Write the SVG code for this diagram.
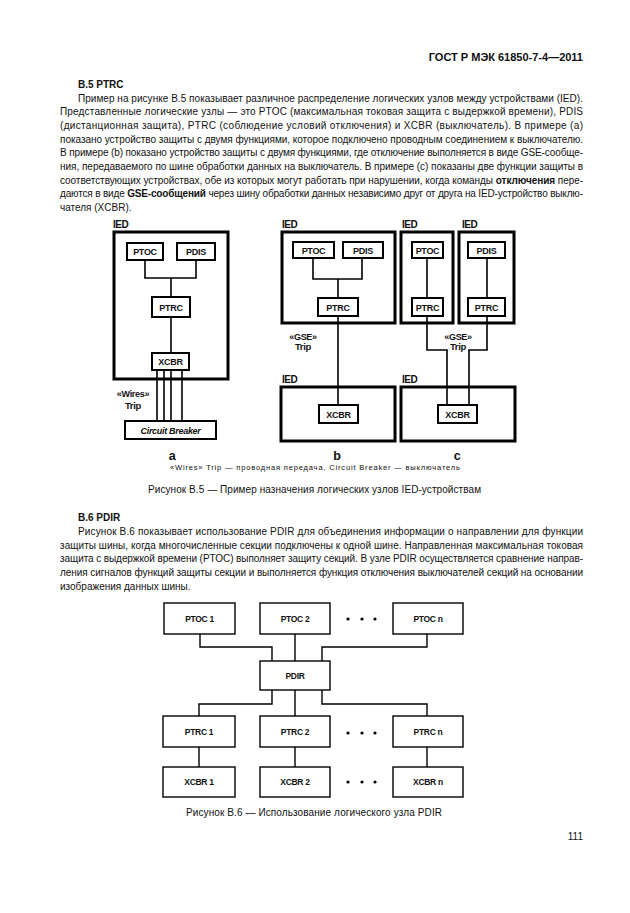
<svg xmlns="http://www.w3.org/2000/svg" width="630" height="913" viewBox="0 0 630 913">
<style>
text{font-family:"Liberation Sans",Arial,sans-serif;fill:#111}
.p{font-size:10px}
.h{font-size:10px;font-weight:bold}
.ied{fill:none;stroke:#000;stroke-width:3}
.nb{fill:#fff;stroke:#000;stroke-width:2}
.ln{fill:none;stroke:#000;stroke-width:1.6}
.lb{font-size:9px;font-weight:bold;text-anchor:middle;letter-spacing:-0.3px}
.il{font-size:10px;font-weight:bold;letter-spacing:-0.5px}
.b6{fill:#fff;stroke:#000;stroke-width:1.4}
.l6{fill:none;stroke:#000;stroke-width:1.4}
.t6{font-size:8.5px;font-weight:bold;text-anchor:middle;letter-spacing:-0.3px}
.dot{fill:#000}
</style>
<rect width="630" height="913" fill="#fff"/>
<text class="h" x="583" y="61" text-anchor="end" style="font-size:11px">ГОСТ Р МЭК 61850-7-4—2011</text>
<text class="h" x="78" y="88">B.5 PTRC</text>
<g class="p">
<text x="78" y="101.5" textLength="505" lengthAdjust="spacing">Пример на рисунке В.5 показывает различное распределение логических узлов между устройствами (IED).</text>
<text x="60" y="115.2" textLength="523" lengthAdjust="spacing">Представленные  логические  узлы — это PTOC (максимальная токовая защита с выдержкой времени), PDIS</text>
<text x="60" y="128.9" textLength="523" lengthAdjust="spacing">(дистанционная  защита),  PTRC  (соблюдение  условий  отключения) и XCBR (выключатель). В примере (a)</text>
<text x="60" y="142.6" textLength="523" lengthAdjust="spacing">показано устройство защиты с двумя функциями, которое подключено проводным соединением к выключателю.</text>
<text x="60" y="156.3" textLength="523" lengthAdjust="spacing">В примере (b) показано устройство защиты с двумя функциями, где отключение выполняется в виде GSE-сообще-</text>
<text x="60" y="170" textLength="523" lengthAdjust="spacing">ния, передаваемого по шине обработки данных на выключатель. В примере (c) показаны две функции защиты в</text>
<text x="60" y="183.7" textLength="523" lengthAdjust="spacing">соответствующих  устройствах,  обе  из  которых могут работать при нарушении, когда команды <tspan font-weight="bold">отключения</tspan> пере-</text>
<text x="60" y="197.4" textLength="523" lengthAdjust="spacing">даются в виде <tspan font-weight="bold">GSE-сообщений</tspan> через шину обработки данных независимо друг от друга на IED-устройство выклю-</text>
<text x="60" y="211.1">чателя (XCBR).</text>
</g>

<g id="fig-b5">
<g id="ied-a">
<text class="il" x="113" y="228">IED</text>
<rect class="ied" x="114" y="232" width="114" height="147"/>
</g>
<g id="a-ptoc"><rect class="nb" x="127" y="243" width="36" height="17"/><text class="lb" x="145" y="255">PTOC</text></g>
<g id="a-pdis"><rect class="nb" x="177" y="243" width="38" height="17"/><text class="lb" x="196" y="255">PDIS</text></g>
<g id="a-ptrc"><rect class="nb" x="152" y="297" width="38" height="20"/><text class="lb" x="171" y="310.5">PTRC</text></g>
<g id="a-xcbr"><rect class="nb" x="152" y="353" width="37" height="17"/><text class="lb" x="170.5" y="365">XCBR</text></g>
<g id="a-cb"><rect class="nb" x="125" y="421" width="91" height="18"/><text class="lb" x="170.5" y="433.5" style="font-style:italic">Circuit Breaker</text></g>

<g id="ied-b">
<text class="il" x="282" y="228">IED</text>
<rect class="ied" x="282" y="232" width="113" height="91"/>
</g>
<g id="b-ptoc"><rect class="nb" x="293" y="242" width="41" height="16"/><text class="lb" x="313.5" y="253.5">PTOC</text></g>
<g id="b-pdis"><rect class="nb" x="343" y="242" width="40" height="16"/><text class="lb" x="363" y="253.5">PDIS</text></g>
<g id="b-ptrc"><rect class="nb" x="318" y="298" width="40" height="18"/><text class="lb" x="338" y="310.5">PTRC</text></g>
<g id="ied-b2">
<text class="il" x="282" y="383">IED</text>
<rect class="ied" x="281" y="387" width="114" height="54"/>
</g>
<g id="b-xcbr"><rect class="nb" x="319" y="405" width="39" height="18"/><text class="lb" x="338.5" y="417.5">XCBR</text></g>

<g id="ied-c1">
<text class="il" x="402" y="228">IED</text>
<rect class="ied" x="401" y="232" width="52" height="91"/>
</g>
<g id="c-ptoc"><rect class="nb" x="412" y="242" width="31" height="16"/><text class="lb" x="427.5" y="253.5">PTOC</text></g>
<g id="c-ptrc1"><rect class="nb" x="412" y="298" width="31" height="18"/><text class="lb" x="427.5" y="310.5">PTRC</text></g>
<g id="ied-c2">
<text class="il" x="462" y="228">IED</text>
<rect class="ied" x="459" y="232" width="55" height="91"/>
</g>
<g id="c-pdis"><rect class="nb" x="468" y="242" width="37" height="16"/><text class="lb" x="486.5" y="253.5">PDIS</text></g>
<g id="c-ptrc2"><rect class="nb" x="468" y="298" width="37" height="18"/><text class="lb" x="486.5" y="310.5">PTRC</text></g>
<g id="ied-c3">
<text class="il" x="402" y="383">IED</text>
<rect class="ied" x="401" y="387" width="114" height="54"/>
</g>
<g id="c-xcbr"><rect class="nb" x="438" y="405" width="39" height="18"/><text class="lb" x="457.5" y="417.5">XCBR</text></g>

<g id="b5-connectors">
<path class="ln" d="M145 260V278H196V260M171 278V297M171 317V353"/>
<path class="ln" d="M157 370V421M164 370V421M171 370V421M182 370V421"/>
<path class="ln" d="M313 258V279H362V258M338 279V298M338 316V405"/>
<path class="ln" d="M427 258V298M427 316V350H447V405"/>
<path class="ln" d="M487 258V298M487 316V350H469V405"/>
</g>
<g id="b5-labels">
<text class="lb" x="133" y="397" style="font-size:9px">«Wires»</text>
<text class="lb" x="133" y="409" style="font-size:9.5px">Trip</text>
<text class="lb" x="303" y="340" style="font-size:9px">«GSE»</text>
<text class="lb" x="303" y="350" style="font-size:9.5px">Trip</text>
<text class="lb" x="458" y="340" style="font-size:9px">«GSE»</text>
<text class="lb" x="458" y="350" style="font-size:9.5px">Trip</text>
<text class="lb" x="172" y="460" style="font-size:12.5px">a</text>
<text class="lb" x="337" y="460" style="font-size:12.5px">b</text>
<text class="lb" x="457" y="460" style="font-size:12.5px">c</text>
</g>
</g>
<text x="315" y="470" text-anchor="middle" style="font-size:7.5px" textLength="290" lengthAdjust="spacing">«Wires» Trip — проводная передача,  Circuit Breaker — выключатель</text>
<text class="p" x="314.5" y="493" text-anchor="middle" textLength="333" lengthAdjust="spacing">Рисунок В.5 — Пример назначения логических узлов IED-устройствам</text>

<text class="h" x="78" y="521">B.6 PDIR</text>
<g class="p">
<text x="78" y="535" textLength="505" lengthAdjust="spacing">Рисунок В.6 показывает использование PDIR для объединения информации о направлении для функции</text>
<text x="60" y="548.7" textLength="523" lengthAdjust="spacing">защиты шины, когда многочисленные секции подключены к одной шине. Направленная максимальная токовая</text>
<text x="60" y="562.4" textLength="523" lengthAdjust="spacing">защита с выдержкой времени (PTOC) выполняет защиту секций. В узле PDIR осуществляется сравнение направ-</text>
<text x="60" y="576.1" textLength="523" lengthAdjust="spacing">ления сигналов функций защиты секции и выполняется функция отключения выключателей секций на основании</text>
<text x="60" y="589.8">изображения  данных  шины.</text>
</g>

<g id="fig-b6">
<g id="b6-connectors">
<path class="l6" d="M200 634V647H272V661M295 634V661M427 634V647H322V661"/>
<path class="l6" d="M272 690V704H199V716M295 690V716M322 690V704H427V716"/>
<path class="l6" d="M199 747V767M295 747V767M427 747V767"/>
</g>
<g id="ptoc1"><rect class="b6" x="164" y="603" width="71" height="31"/><text class="t6" x="199.5" y="621.5">PTOC 1</text></g>
<g id="ptoc2"><rect class="b6" x="260" y="603" width="70" height="31"/><text class="t6" x="295" y="621.5">PTOC 2</text></g>
<g id="ptocn"><rect class="b6" x="393" y="603" width="70" height="31"/><text class="t6" x="428" y="621.5">PTOC n</text></g>
<g id="pdir"><rect class="b6" x="260" y="661" width="70" height="29"/><text class="t6" x="295" y="678.5">PDIR</text></g>
<g id="ptrc1"><rect class="b6" x="163" y="716" width="72" height="31"/><text class="t6" x="199" y="734.5">PTRC 1</text></g>
<g id="ptrc2"><rect class="b6" x="260" y="716" width="70" height="31"/><text class="t6" x="295" y="734.5">PTRC 2</text></g>
<g id="ptrcn"><rect class="b6" x="393" y="716" width="70" height="31"/><text class="t6" x="428" y="734.5">PTRC n</text></g>
<g id="xcbr1"><rect class="b6" x="163" y="767" width="72" height="30"/><text class="t6" x="199" y="785">XCBR 1</text></g>
<g id="xcbr2"><rect class="b6" x="260" y="767" width="70" height="30"/><text class="t6" x="295" y="785">XCBR 2</text></g>
<g id="xcbrn"><rect class="b6" x="393" y="767" width="70" height="30"/><text class="t6" x="428" y="785">XCBR n</text></g>
<g id="dots">
<circle class="dot" cx="348" cy="619" r="1.6"/><circle class="dot" cx="362" cy="619" r="1.6"/><circle class="dot" cx="375" cy="619" r="1.6"/>
<circle class="dot" cx="348" cy="733" r="1.6"/><circle class="dot" cx="362" cy="733" r="1.6"/><circle class="dot" cx="375" cy="733" r="1.6"/>
<circle class="dot" cx="348" cy="782" r="1.6"/><circle class="dot" cx="362" cy="782" r="1.6"/><circle class="dot" cx="375" cy="782" r="1.6"/>
</g>
</g>
<text class="p" x="314" y="816" text-anchor="middle" textLength="256" lengthAdjust="spacing">Рисунок В.6 — Использование логического узла PDIR</text>
<text class="p" x="583" y="840" text-anchor="end">111</text>
</svg>
